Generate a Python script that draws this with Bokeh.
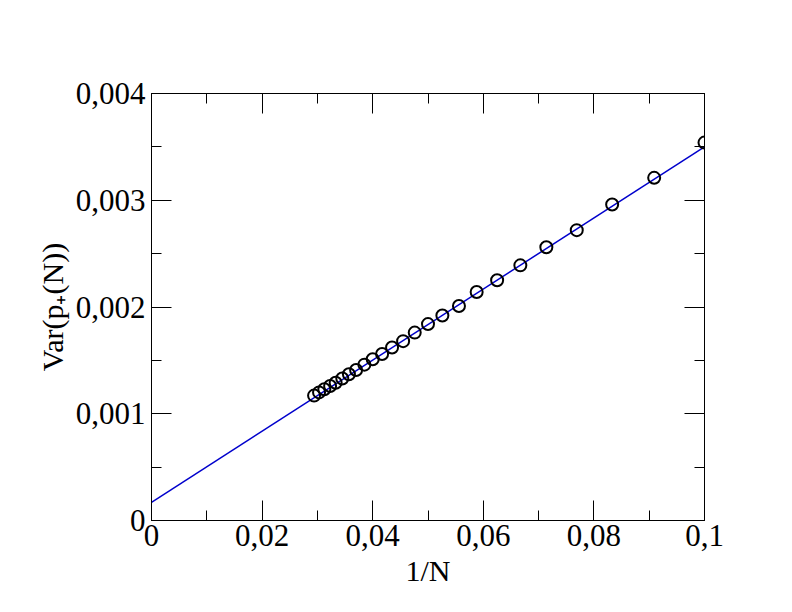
from bokeh.plotting import figure
from bokeh.models import FixedTicker, LinearAxis, Range1d
from bokeh.embed import file_html
from bokeh.resources import INLINE

# data: x = 1/N, y = Var(p+(N))
inv_n = [0.1, 0.0909, 0.0833, 0.0769, 0.0714, 0.0667, 0.0625, 0.0588, 0.0556,
         0.0526, 0.05, 0.0476, 0.0455, 0.0435, 0.0417, 0.04, 0.0385, 0.037,
         0.0357, 0.0345, 0.0333, 0.0323, 0.03125, 0.0303, 0.0294]
var_p = [0.00354, 0.00321, 0.00296, 0.00272, 0.00256, 0.00239, 0.00225, 0.00214,
         0.00201, 0.00192, 0.00184, 0.00176, 0.00168, 0.00162, 0.00156, 0.00151,
         0.00146, 0.00141, 0.00137, 0.00133, 0.00129, 0.00126, 0.00123, 0.00120,
         0.00117]
fit_x = [0.0, 0.1]
fit_y = [0.00017, 0.00350]

x_ticks = [0, 0.02, 0.04, 0.06, 0.08, 0.1]
x_labels = ["0", "0,02", "0,04", "0,06", "0,08", "0,1"]
x_minor = [0.01, 0.03, 0.05, 0.07, 0.09]
y_ticks = [0, 0.001, 0.002, 0.003, 0.004]
y_labels = ["0", "0,001", "0,002", "0,003", "0,004"]
y_minor = [0.0005, 0.0015, 0.0025, 0.0035]

FONT = "Liberation Serif"

p = figure(width=776, height=596, output_backend="svg", toolbar_location=None,
           x_range=Range1d(0, 0.1), y_range=Range1d(0, 0.004),
           min_border_left=151, min_border_top=93, min_border_right=72,
           min_border_bottom=76, x_axis_location=None, y_axis_location=None)
p.background_fill_color = "white"
p.border_fill_color = "white"
p.outline_line_color = "black"
p.outline_line_width = 1
p.xgrid.visible = False
p.ygrid.visible = False

def style(ax, ticks, minor, labels, show_labels):
    ax.ticker = FixedTicker(ticks=ticks, minor_ticks=minor)
    ax.major_tick_in = 20
    ax.major_tick_out = 0
    ax.minor_tick_in = 10
    ax.minor_tick_out = 0
    ax.axis_line_color = "black"
    ax.major_tick_line_color = "black"
    ax.minor_tick_line_color = "black"
    if show_labels:
        ax.major_label_overrides = {t: l for t, l in zip(ticks, labels)}
        ax.major_label_text_font = FONT
        ax.major_label_text_font_size = "31px"
        ax.major_label_text_color = "black"
        ax.axis_label_text_font = FONT
        ax.axis_label_text_font_size = "30px"
        ax.axis_label_text_font_style = "normal"
        ax.axis_label_text_color = "black"
    else:
        ax.major_label_text_font_size = "0px"
        ax.major_label_text_alpha = 0

xb = LinearAxis(axis_label="1/N")
style(xb, x_ticks, x_minor, x_labels, True)
xb.major_label_standoff = 4
xb.axis_label_standoff = 5
p.add_layout(xb, "below")

yl = LinearAxis(axis_label="Var(p\u208a(N))")
style(yl, y_ticks, y_minor, y_labels, True)
yl.major_label_standoff = 6
yl.axis_label_standoff = 4
p.add_layout(yl, "left")

xt = LinearAxis()
style(xt, x_ticks, x_minor, x_labels, False)
p.add_layout(xt, "above")

yr = LinearAxis()
style(yr, y_ticks, y_minor, y_labels, False)
p.add_layout(yr, "right")

p.line(fit_x, fit_y, line_color="#0000cc", line_width=1.5)
p.scatter(inv_n, var_p, marker="circle", size=12, fill_alpha=0,
          line_color="black", line_width=2)

open("out.html", "w").write(file_html(p, INLINE))
